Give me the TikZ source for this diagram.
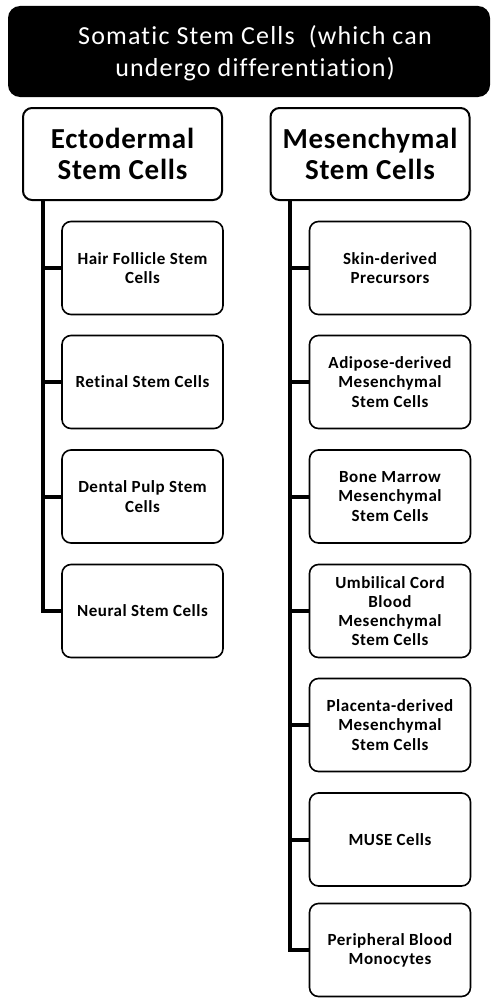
\documentclass[tikz,border=0pt]{standalone}
\usepackage{fontspec}
\setmainfont{Carlito}
\newfontfamily\headfont[LetterSpace=4.5,Ligatures=NoCommon]{Carlito}
\newfontfamily\mainfont[LetterSpace=2.5,Ligatures=NoCommon]{Carlito}
\newfontfamily\cellfont[LetterSpace=3,Ligatures=NoCommon]{Carlito}
\begin{document}
\begin{tikzpicture}[x=1pt,y=-1pt,
  header/.style={text=white,font=\headfont\fontsize{26}{32}\selectfont,align=center},
  mainbox/.style={draw=black,line width=2pt,rounded corners=9pt,fill=white,
    minimum width=199pt,minimum height=92pt,align=center,
    font=\mainfont\bfseries\fontsize{29}{31}\selectfont,inner sep=0pt},
  cellbox/.style={draw=black,line width=1.6pt,rounded corners=9pt,fill=white,
    minimum width=161pt,minimum height=93pt,align=center,
    font=\cellfont\bfseries\fontsize{17}{19.2}\selectfont,inner sep=0pt},
  trunk/.style={line width=4.5pt},
  branch/.style={line width=4pt}]
\useasboundingbox (0,0) rectangle (490,998);
\fill[white] (0,0) rectangle (490,998);
% header
\fill[black,rounded corners=12pt] (490,6) -- (8,6) -- (8,97) -- (490,97) -- cycle;
\node[header] (head) at (255,53) {Somatic Stem Cells~~(which can\\undergo differentiation)};
% main boxes
\node[mainbox] (ecto) at (122.5,154) {Ectodermal\\Stem Cells};
\node[mainbox] (mes) at (370,154) {Mesenchymal\\Stem Cells};
% left children
\node[cellbox] (e1) at (142.5,268) {Hair Follicle Stem\\Cells};
\node[cellbox] (e2) at (142.5,382) {Retinal Stem Cells};
\node[cellbox] (e3) at (142.5,496.5) {Dental Pulp Stem\\Cells};
\node[cellbox] (e4) at (142.5,611) {Neural Stem Cells};
% right children
\node[cellbox] (m1) at (390,268) {Skin-derived\\Precursors};
\node[cellbox] (m2) at (390,382) {Adipose-derived\\Mesenchymal\\Stem Cells};
\node[cellbox] (m3) at (390,496.5) {Bone Marrow\\Mesenchymal\\Stem Cells};
\node[cellbox] (m4) at (390,611) {Umbilical Cord\\Blood\\Mesenchymal\\Stem Cells};
\node[cellbox] (m5) at (390,725) {Placenta-derived\\Mesenchymal\\Stem Cells};
\node[cellbox] (m6) at (390,839.5) {MUSE Cells};
\node[cellbox] (m7) at (390,950) {Peripheral Blood\\Monocytes};
% connectors left
\coordinate (et) at (43,200);
\coordinate (eb) at (43,611);
\draw[trunk] (et) -- (eb);
\foreach \n in {e1,e2,e3,e4}{\draw[branch] (\n.west) -- (\n.west -| et);}
\draw[branch] (e4.west) -- ([xshift=-2.25pt]e4.west -| et);
% connectors right
\coordinate (mt) at (290,200);
\coordinate (mb) at (290,950);
\draw[trunk] (mt) -- (mb);
\foreach \n in {m1,m2,m3,m4,m5,m6,m7}{\draw[branch] (\n.west) -- (\n.west -| mt);}
\draw[branch] (m7.west) -- ([xshift=-2.25pt]m7.west -| mt);
\end{tikzpicture}
\end{document}
